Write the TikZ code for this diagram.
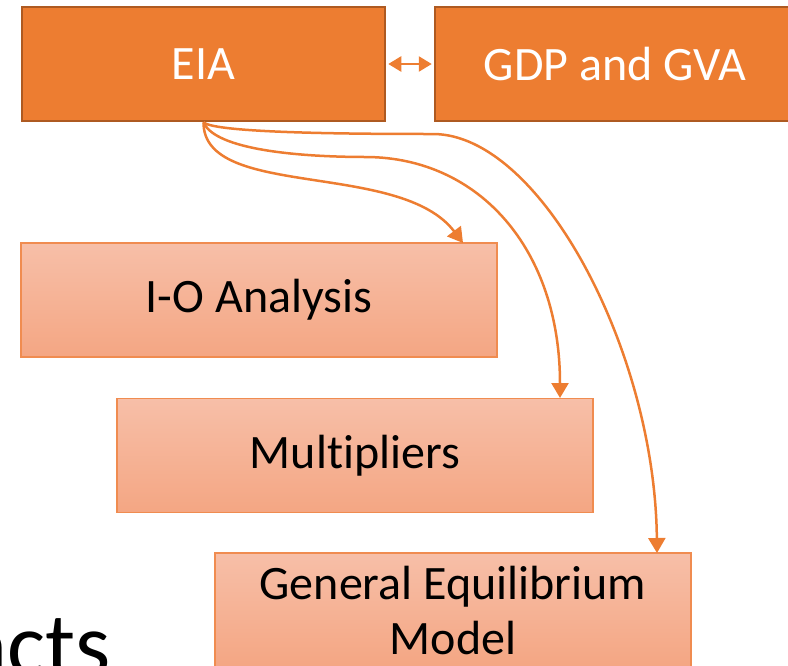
\documentclass[tikz,border=0pt]{standalone}
\usepackage{fontspec}
\setmainfont{Carlito}[RawFeature=-liga]
\usepackage{tikz}
\usetikzlibrary{arrows.meta}

\definecolor{eiaorange}{RGB}{237,125,49}
\definecolor{eiaborder}{RGB}{174,90,33}
\definecolor{subtop}{RGB}{247,191,168}
\definecolor{subbottom}{RGB}{244,166,131}
\definecolor{subborder}{RGB}{240,140,80}

\tikzset{
  topbox/.style={draw=eiaborder, line width=2.5pt, fill=eiaorange, text=white,
    minimum height=114pt, inner sep=0pt, font=\fontsize{48}{55}\selectfont},
  subbox/.style={draw=subborder, line width=1.5pt, top color=subtop, bottom color=subbottom,
    minimum width=476pt, minimum height=114pt, inner sep=0pt, align=center,
    font=\fontsize{48}{55}\selectfont},
  flow/.style={draw=eiaorange, line width=2.5pt, -{Triangle[length=15pt,width=17pt]}},
  link/.style={draw=eiaorange, line width=2.5pt, {Triangle[length=13pt,width=15pt]}-{Triangle[length=13pt,width=15pt]}}
}

\begin{document}
\begin{tikzpicture}[x=1pt, y=-1pt]
  \clip (0,0) rectangle (788,665);
  % top row
  \node[topbox, minimum width=363pt] (eia) at (203.5,64) {EIA};
  \node[topbox, minimum width=360pt] (gdp) at (615,64) {GDP and GVA};
  % methods
  \node[subbox] (io) at (259,300) {I-O Analysis};
  \node[subbox] (mult) at (355,455.5) {Multipliers};
  \node[subbox] (gem) at (453,610) {General Equilibrium\\Model};
  \node[anchor=base west, inner sep=0pt, font=\fontsize{90}{90}\selectfont] (acts) at (-36,675) {acts};
  % arrow ends
  \coordinate (tio) at (463,243);
  \coordinate (tmult) at (560,398);
  \coordinate (tgem) at (657,553);
  % connectors
  \draw[link, shorten <=2pt, shorten >=2pt] (eia.east) -- (gdp.west);
  \draw[flow] (eia.south) .. controls (203,200) and (400,160) .. (tio);
  \draw[flow] (eia.south) .. controls (215,150) and (300,157) .. (367,157)
    .. controls (480,158) and (560,250) .. (tmult);
  \draw[flow] (eia.south) .. controls (215,133) and (350,134) .. (433,134)
    .. controls (540,134) and (655,350) .. (tgem);
\end{tikzpicture}
\end{document}
